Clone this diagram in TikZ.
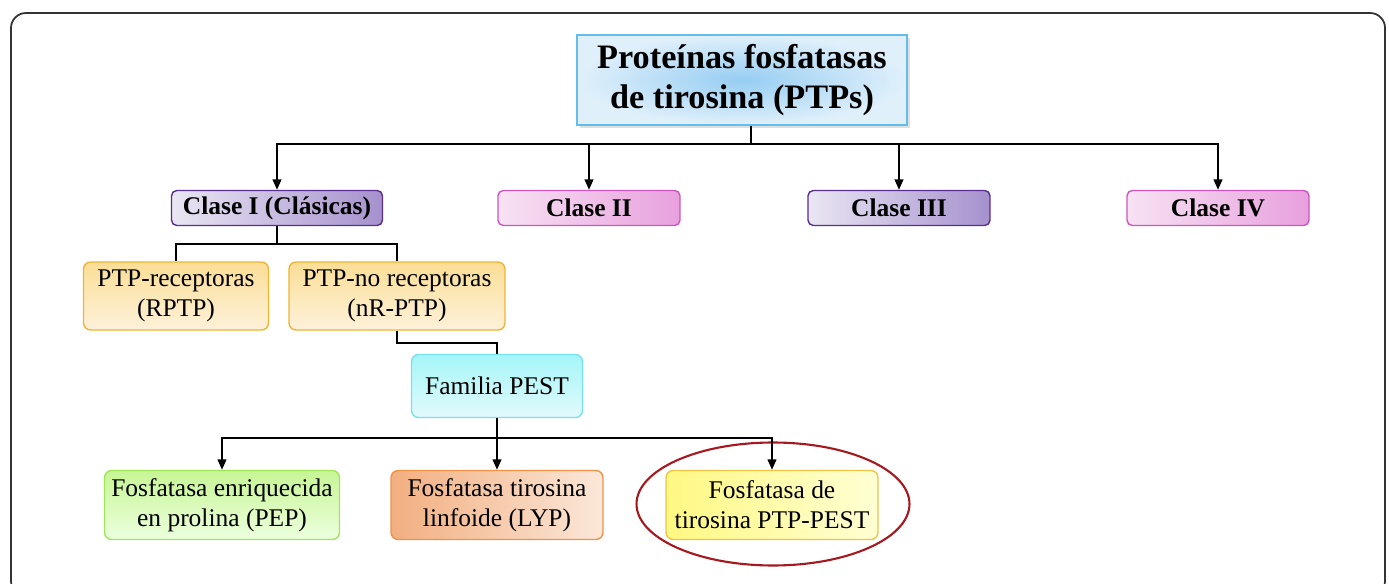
\documentclass[tikz,border=0pt]{standalone}
\usepackage{fontspec}
\setmainfont{Liberation Serif}
\usetikzlibrary{arrows.meta,shapes.geometric,shadows}

\definecolor{titleblue}{RGB}{150,205,242}
\definecolor{titlepale}{RGB}{224,240,251}
\definecolor{titleline}{RGB}{100,190,235}
\definecolor{lilacpale}{RGB}{234,230,243}
\definecolor{lilacdeep}{RGB}{165,145,205}
\definecolor{lilacline}{RGB}{90,45,145}
\definecolor{pinkpale}{RGB}{247,226,243}
\definecolor{pinkdeep}{RGB}{232,160,222}
\definecolor{pinkline}{RGB}{205,85,190}
\definecolor{goldtop}{RGB}{251,222,150}
\definecolor{goldbottom}{RGB}{253,241,218}
\definecolor{goldline}{RGB}{240,180,50}
\definecolor{cyantop}{RGB}{165,245,248}
\definecolor{cyanbottom}{RGB}{226,250,252}
\definecolor{cyanline}{RGB}{120,225,240}
\definecolor{greentop}{RGB}{200,245,150}
\definecolor{greenbottom}{RGB}{236,255,222}
\definecolor{greenline}{RGB}{160,230,90}
\definecolor{orangetop}{RGB}{242,175,128}
\definecolor{orangebottom}{RGB}{251,231,217}
\definecolor{orangeline}{RGB}{240,145,70}
\definecolor{yellowtop}{RGB}{255,248,130}
\definecolor{yellowbottom}{RGB}{255,255,212}
\definecolor{yellowline}{RGB}{240,195,70}
\definecolor{halored}{RGB}{165,25,30}

\begin{document}
\begin{tikzpicture}[x=0.02cm, y=-0.02cm,
  box/.style = {shape=rectangle, rounded corners=4pt, draw, line width=0.8pt,
    align=center, inner sep=1pt, font=\fontsize{14.5}{17}\selectfont},
  clase/.style = {box, rounded corners=3pt, minimum height=0.7cm,
    font=\bfseries\fontsize{14.5}{16}\selectfont},
  lila/.style = {clase, draw=lilacline, left color=lilacpale, right color=lilacdeep},
  rosa/.style = {clase, draw=pinkline, left color=pinkpale, right color=pinkdeep},
  gold/.style = {box, draw=goldline, top color=goldtop, bottom color=goldbottom,
    minimum height=1.36cm},
  hoja/.style = {box, minimum height=1.38cm},
  link/.style = {line width=1.1pt},
  arr/.style = {link, -{Triangle[width=5pt,length=6pt]}}]
    \useasboundingbox (0,0) rectangle (1389,584);
    \draw[line width=1pt, draw=black!80, rounded corners=8.5pt] (11,13) rectangle (1385,596);

    \node[box, rounded corners=0pt, draw=titleline, inner color=titleblue, outer color=titlepale,
      minimum width=6.6cm, minimum height=1.8cm, font=\bfseries\fontsize{19.5}{23}\selectfont,
      drop shadow={opacity=0.25, shadow xshift=1.5pt, shadow yshift=-1.5pt}]
      (ptps) at (742,80) {Proteínas fosfatasas\\ de tirosina (PTPs)};

    \node[lila, minimum width=4.22cm] (clase1) at (277,208) {Clase I (Clásicas)};
    \node[rosa, minimum width=3.64cm] (clase2) at (589,208) {Clase II};
    \node[lila, minimum width=3.64cm] (clase3) at (899,208) {Clase III};
    \node[rosa, minimum width=3.64cm] (clase4) at (1218,208) {Clase IV};

    \node[gold, minimum width=3.7cm] (rptp) at (176,296) {PTP-receptoras\\ (RPTP)};
    \node[gold, minimum width=4.32cm] (nrptp) at (397,296) {PTP-no receptoras\\ (nR-PTP)};

    \node[box, draw=cyanline, top color=cyantop, bottom color=cyanbottom,
      minimum width=3.42cm, minimum height=1.26cm] (pest) at (497,386) {Familia PEST};

    \node[hoja, draw=greenline, top color=greentop, bottom color=greenbottom,
      minimum width=4.7cm] (pep) at (222,505) {Fosfatasa enriquecida\\ en prolina (PEP)};
    \node[hoja, draw=orangeline, left color=orangetop, right color=orangebottom,
      minimum width=4.24cm] (lyp) at (497,505) {Fosfatasa tirosina\\ linfoide (LYP)};
    \node[hoja, draw=yellowline, left color=yellowtop, right color=yellowbottom,
      minimum width=4.24cm] (ptppest) at (772,505) {Fosfatasa de\\ tirosina PTP-PEST};
    \node[ellipse, draw=halored, line width=1.2pt, minimum width=5.46cm,
      minimum height=2.46cm] (halo) at (773,504) {};

    \coordinate (hub) at (751,144);
    \draw[link] (ptps.south -| hub) -- (hub);
    \draw[arr] (hub) -| (clase1);
    \draw[arr] (hub) -| (clase4);
    \draw[arr] (clase2 |- hub) -- (clase2);
    \draw[arr] (clase3 |- hub) -- (clase3);

    \coordinate (split1) at (277,244);
    \draw[link] (clase1) -- (split1);
    \draw[link] (split1) -| (rptp);
    \draw[link] (split1) -| (nrptp);

    \coordinate (split2) at (397,343);
    \draw[link] (nrptp) -- (split2) -| (pest);

    \coordinate (split3) at (497,438);
    \draw[arr] (pest) -- (lyp);
    \draw[arr] (split3) -| (pep);
    \draw[arr] (split3) -| (ptppest);
\end{tikzpicture}
\end{document}
